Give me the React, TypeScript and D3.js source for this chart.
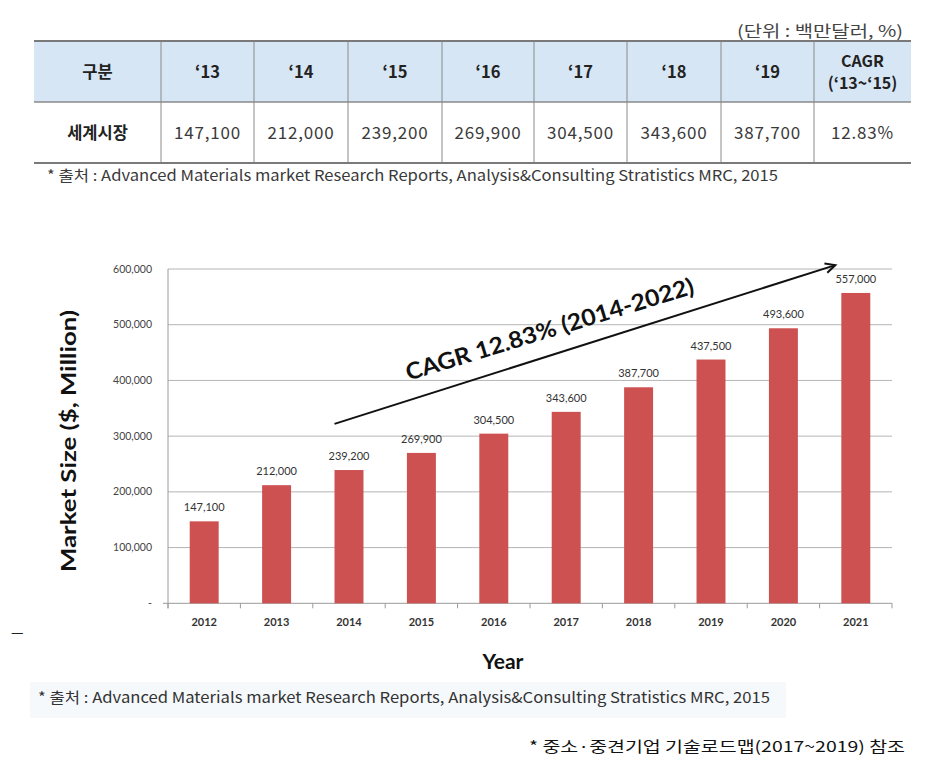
import React from 'react';
import * as d3 from 'd3';

// ---- Data ----
const years = ['2012', '2013', '2014', '2015', '2016', '2017', '2018', '2019', '2020', '2021'];
const marketSize = [147100, 212000, 239200, 269900, 304500, 343600, 387700, 437500, 493600, 557000];
const yTicks = [0, 100000, 200000, 300000, 400000, 500000, 600000];

const tableHeaders = ['구분', '‘13', '‘14', '‘15', '‘16', '‘17', '‘18', '‘19', 'CAGR|(‘13~‘15)'];
const tableRowLabel = '세계시장';
const tableValues = ['147,100', '212,000', '239,200', '269,900', '304,500', '343,600', '387,700', '12.83%'];
const tableColWidths = [127, 93, 94, 94, 92, 93, 94, 93, 97];

const unitText = '(단위 : 백만달러, %)';
const sourceText = '* 출처 : Advanced Materials market Research Reports, Analysis&Consulting Stratistics MRC, 2015';
const refText = '* 중소·중견기업 기술로드맵(2017~2019) 참조';
const cagrText = 'CAGR 12.83% (2014-2022)';
const cagrArrow = { from: { year: '2014', value: 322000 }, to: { year: '2021', value: 607000 } };

const KR = '"Noto Sans CJK KR", "Noto Sans", sans-serif';
const LAT = 'Lato, "Open Sans", sans-serif';

export default function App() {
  // ---- Table layout ----
  const tX0 = 34, tTop = 41, tHeadB = 102, tBot = 163;
  const colEdges = [tX0];
  tableColWidths.forEach((w) => colEdges.push(colEdges[colEdges.length - 1] + w));
  const tX1 = colEdges[colEdges.length - 1];

  // ---- Chart scales ----
  const x = d3.scaleBand<string>().domain(years).range([168, 892]).paddingInner(0.6).paddingOuter(0.3);
  const y = d3.scaleLinear().domain([0, 600000]).range([603.3, 269]);
  const step = x.step();
  const bw = x.bandwidth();
  const cellLeft = (d: string) => (x(d) as number) + bw / 2 - step / 2;
  const boundaries = years.map(cellLeft).concat([cellLeft(years[years.length - 1]) + step]);
  const fmt = d3.format(',');

  const ax0 = x(cagrArrow.from.year) as number;
  const ay0 = y(cagrArrow.from.value);
  const ax1 = (x(cagrArrow.to.year) as number) - 6;
  const ay1 = y(cagrArrow.to.value);
  const ang = Math.atan2(ay1 - ay0, ax1 - ax0);
  const head = 11;
  const hx1 = ax1 - head * Math.cos(ang - 0.45);
  const hy1 = ay1 - head * Math.sin(ang - 0.45);
  const hx2 = ax1 - head * Math.cos(ang + 0.45);
  const hy2 = ay1 - head * Math.sin(ang + 0.45);

  return (
    <svg width={940} height={763} style={{ position: 'absolute', left: 0, top: 0, background: '#fff' }}>
      {/* Unit text */}
      <text x={903} y={37} textAnchor="end" fontFamily={KR} fontSize={16} fill="#444" textLength={166} lengthAdjust="spacingAndGlyphs">{unitText}</text>

      {/* Table */}
      <rect x={tX0} y={tTop} width={tX1 - tX0} height={tHeadB - tTop} fill="#d7e6f5" />
      {colEdges.slice(1, -1).map((cx, i) => (
        <line key={'v' + i} x1={cx} x2={cx} y1={tTop} y2={tBot} stroke="#8a8a8a" strokeWidth={1} />
      ))}
      <line x1={tX0} x2={tX1} y1={tTop} y2={tTop} stroke="#7a7a7a" strokeWidth={2.2} />
      <line x1={tX0} x2={tX1} y1={tHeadB} y2={tHeadB} stroke="#8a8a8a" strokeWidth={1.4} />
      <line x1={tX0} x2={tX1} y1={tBot} y2={tBot} stroke="#7a7a7a" strokeWidth={2.2} />
      {tableHeaders.map((h, i) => {
        const cx = (colEdges[i] + colEdges[i + 1]) / 2;
        const parts = h.split('|');
        if (parts.length === 1) {
          return (
            <text key={'h' + i} x={cx} y={78} textAnchor="middle" fontFamily={KR} fontWeight="bold" fontSize={16.5} fill="#222">{h}</text>
          );
        }
        return (
          <text key={'h' + i} textAnchor="middle" fontFamily={KR} fontWeight="bold" fontSize={16} fill="#222">
            <tspan x={cx} y={67}>{parts[0]}</tspan>
            <tspan x={cx} y={89}>{parts[1]}</tspan>
          </text>
        );
      })}
      <text x={(colEdges[0] + colEdges[1]) / 2} y={139} textAnchor="middle" fontFamily={KR} fontWeight="bold" fontSize={16.5} fill="#222">{tableRowLabel}</text>
      {tableValues.map((v, i) => (
        <text key={'tv' + i} x={(colEdges[i + 1] + colEdges[i + 2]) / 2} y={139} textAnchor="middle" fontFamily={KR} fontSize={17} letterSpacing={0.8} fill="#3a3a3a">{v}</text>
      ))}
      <text x={47} y={181} fontFamily={KR} fontSize={15} fill="#3a3a3a" textLength={731} lengthAdjust="spacingAndGlyphs">{sourceText}</text>

      {/* Footnote background */}
      <rect x={30} y={682} width={756} height={36} fill="#f6f9fc" />

      {/* Gridlines */}
      {yTicks.filter((t) => t > 0).map((t) => (
        <line key={'g' + t} x1={168} x2={892} y1={y(t)} y2={y(t)} stroke="#b5b5b5" strokeWidth={1} />
      ))}
      {/* Axes */}
      <line x1={168} x2={168} y1={y(600000)} y2={y(0) + 5} stroke="#9a9a9a" strokeWidth={1} />
      <line x1={163} x2={892} y1={y(0)} y2={y(0)} stroke="#9a9a9a" strokeWidth={1} />
      {boundaries.map((b, i) => (
        <line key={'xt' + i} x1={b} x2={b} y1={y(0)} y2={y(0) + 5} stroke="#9a9a9a" strokeWidth={1} />
      ))}
      {yTicks.map((t) => (
        <text key={'yl' + t} x={152} y={y(t) + 3.5} textAnchor="end" fontFamily={LAT} fontSize={10.5} fill="#444">
          {t === 0 ? '-' : fmt(t)}
        </text>
      ))}

      {/* Bars */}
      {years.map((yr, i) => (
        <g key={'b' + yr}>
          <rect x={x(yr)} y={y(marketSize[i])} width={bw} height={y(0) - y(marketSize[i])} fill="#cc5150" />
          <text x={(x(yr) as number) + bw / 2} y={y(marketSize[i]) - 10} textAnchor="middle" fontFamily={LAT} fontSize={11} fill="#333">
            {fmt(marketSize[i])}
          </text>
          <text x={(x(yr) as number) + bw / 2} y={626} textAnchor="middle" fontFamily={LAT} fontWeight="bold" fontSize={11} fill="#333">
            {yr}
          </text>
        </g>
      ))}

      {/* CAGR arrow */}
      <line x1={ax0} y1={ay0} x2={ax1} y2={ay1} stroke="#111" strokeWidth={2} />
      <polyline points={`${hx1},${hy1} ${ax1},${ay1} ${hx2},${hy2}`} fill="none" stroke="#111" strokeWidth={2} />
      <text
        transform={`translate(552,337) rotate(-17)`}
        textAnchor="middle"
        fontFamily={LAT}
        fontWeight="bold"
        fontSize={23}
        fill="#111"
        textLength={300}
        lengthAdjust="spacingAndGlyphs"
      >
        {cagrText}
      </text>

      {/* Axis titles */}
      <text transform="translate(76,441) rotate(-90)" textAnchor="middle" fontFamily={LAT} fontWeight="bold" fontSize={21} fill="#111" textLength={262} lengthAdjust="spacingAndGlyphs">
        Market Size ($, Million)
      </text>
      <text x={503} y={669} textAnchor="middle" fontFamily={LAT} fontWeight="bold" fontSize={21} fill="#111">Year</text>

      {/* Footnotes */}
      <text x={11} y={637} fontFamily={KR} fontSize={14} fill="#222">—</text>
      <text x={38} y={703} fontFamily={KR} fontSize={15} fill="#333" textLength={732} lengthAdjust="spacingAndGlyphs">{sourceText}</text>
      <text x={905} y={752} textAnchor="end" fontFamily={KR} fontSize={15} fill="#111" textLength={376} lengthAdjust="spacingAndGlyphs">{refText}</text>
    </svg>
  );
}
